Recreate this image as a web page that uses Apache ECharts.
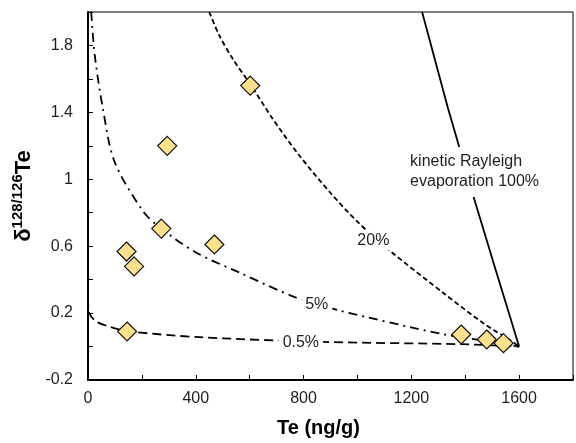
<!DOCTYPE html>
<html>
<head>
<meta charset="utf-8">
<script src="https://cdn.jsdelivr.net/npm/echarts@6/dist/echarts.min.js"></script>
<style>
  html, body { margin: 0; padding: 0; background: #fff; }
  #chart { width: 576px; height: 443px; }
</style>
</head>
<body>
<div id="chart"></div>
<script>
// Measured samples: Te concentration (ng/g) and δ128/126Te
const sampleTe    = [145, 143, 171, 272, 294, 469, 602, 1385, 1480, 1542];
const sampleDelta = [0.09, 0.568, 0.479, 0.705, 1.20, 0.61, 1.56, 0.072, 0.042, 0.02];

// Evaporation model curves [Te, δ]
const rayleigh100 = [[1240, 2.0], [1336, 1.425], [1379, 1.187], [1434, 0.879], [1514, 0.453], [1600, 0]];
const curve20 = [[450, 2.0], [487, 1.861], [536, 1.723], [604, 1.564], [684, 1.365], [782, 1.147],
                 [905, 0.909], [1004, 0.740], [1121, 0.572], [1324, 0.314], [1471, 0.135], [1570, 0.035], [1600, 0]];
const curve5 = [[12, 2.0], [25, 1.742], [55, 1.425], [98, 1.107], [204, 0.81], [272, 0.705], [401, 0.562],
                [561, 0.443], [770, 0.294], [936, 0.214], [1311, 0.076], [1450, 0.04], [1600, 0]];
const curve05 = [[0, 0.29], [5, 0.2], [30, 0.15], [81, 0.118], [145, 0.092], [413, 0.056], [893, 0.027],
                 [1385, 0.014], [1600, 0]];

// Curve labels and where they sit [Te, δ, text]
const curveLabels = [
  [1059, 0.636, '20%'],
  [849, 0.252, '5%'],
  [790, 0.022, '0.5%']
];
const rayleighLabel = [1188, 1.044, 'kinetic Rayleigh\nevaporation 100%'];

// Axis settings
const xMin = 0, xMax = 1800, xStep = 200, xLabelStep = 400;
const yMin = -0.2, yMax = 2.0, yStep = 0.2;

const FONT = '"Liberation Sans", Arial, sans-serif';
const TEXT = '#1e1e1e';

const chart = echarts.init(document.getElementById('chart'), null, { renderer: 'canvas' });

const curveLine = (data, type) => ({
  type: 'line',
  data: data,
  smooth: 0.3,
  showSymbol: false,
  symbol: 'none',
  z: 2,
  silent: true,
  lineStyle: { color: '#000', width: 1.8, type: type }
});

chart.setOption({
  animation: false,
  backgroundColor: '#fff',
  grid: {
    left: 88, right: 1, top: 12, bottom: 60,
    show: true, borderColor: '#000', borderWidth: 1
  },
  xAxis: {
    type: 'value',
    min: xMin, max: xMax, interval: xStep,
    name: 'Te (ng/g)',
    nameLocation: 'middle',
    nameGap: 38,
    nameTextStyle: { fontFamily: FONT, fontSize: 20, fontWeight: 'bold', color: '#000', padding: [0, 24, 0, 0] },
    axisLine: { show: true, onZero: false, lineStyle: { color: '#000', width: 2 } },
    axisTick: { show: true, inside: true, length: 5, lineStyle: { color: '#000', width: 1 } },
    axisLabel: {
      fontFamily: FONT, fontSize: 16, color: TEXT, margin: 11,
      formatter: v => (v % xLabelStep === 0 && v < xMax) ? String(v) : ''
    },
    splitLine: { show: false }
  },
  yAxis: {
    type: 'value',
    min: yMin, max: yMax, interval: yStep,
    name: '{d|δ}{s|128/126}{t|Te}',
    nameLocation: 'middle',
    nameGap: 43,
    nameTextStyle: {
      color: '#000',
      rich: {
        d: { fontFamily: FONT, fontSize: 22, fontWeight: 'bold', color: '#000', verticalAlign: 'bottom', lineHeight: 24 },
        s: { fontFamily: FONT, fontSize: 15, fontWeight: 'bold', color: '#000', verticalAlign: 'top', lineHeight: 24, padding: [0, 0, 9, 0] },
        t: { fontFamily: FONT, fontSize: 22, fontWeight: 'bold', color: '#000', verticalAlign: 'bottom', lineHeight: 24 }
      }
    },
    axisLine: { show: true, onZero: false, lineStyle: { color: '#000', width: 2 } },
    axisTick: { show: true, inside: true, length: 5, lineStyle: { color: '#000', width: 1 } },
    axisLabel: {
      fontFamily: FONT, fontSize: 16, color: TEXT, margin: 15,
      formatter: v => {
        const k = Math.round((v - yMin) / yStep);
        if (k % 2 !== 0) return '';
        return String(parseFloat(v.toFixed(1)));
      }
    },
    splitLine: { show: false }
  },
  series: [
    {
      type: 'line',
      data: rayleigh100,
      smooth: false,
      symbol: 'none',
      z: 2,
      silent: true,
      lineStyle: { color: '#000', width: 1.8, type: 'solid' }
    },
    curveLine(curve20, [5, 3]),
    curveLine(curve5, [9, 5, 2, 5]),
    curveLine(curve05, [9, 5]),
    {
      type: 'scatter',
      data: curveLabels.map(d => [d[0], d[1], d[2]]),
      symbolSize: 0,
      z: 5,
      silent: true,
      itemStyle: { opacity: 1 },
      label: {
        show: true,
        position: 'inside',
        formatter: p => p.data[2],
        fontFamily: FONT, fontSize: 16, color: TEXT,
        backgroundColor: '#fff',
        padding: [2, 4]
      }
    },
    {
      type: 'scatter',
      data: [[rayleighLabel[0], rayleighLabel[1], rayleighLabel[2]]],
      symbolSize: 0,
      z: 5,
      silent: true,
      itemStyle: { opacity: 1 },
      label: {
        show: true,
        position: 'right',
        distance: 0,
        align: 'left',
        formatter: p => p.data[2],
        fontFamily: FONT, fontSize: 16, lineHeight: 20, color: TEXT,
        backgroundColor: '#fff',
        padding: [5, 2]
      }
    },
    {
      type: 'scatter',
      data: sampleTe.map((t, i) => [t, sampleDelta[i]]),
      symbol: 'diamond',
      symbolSize: [19, 19],
      z: 10,
      itemStyle: { color: '#FFE08C', borderColor: '#111', borderWidth: 1.2, opacity: 1 }
    }
  ]
});
</script>
</body>
</html>
